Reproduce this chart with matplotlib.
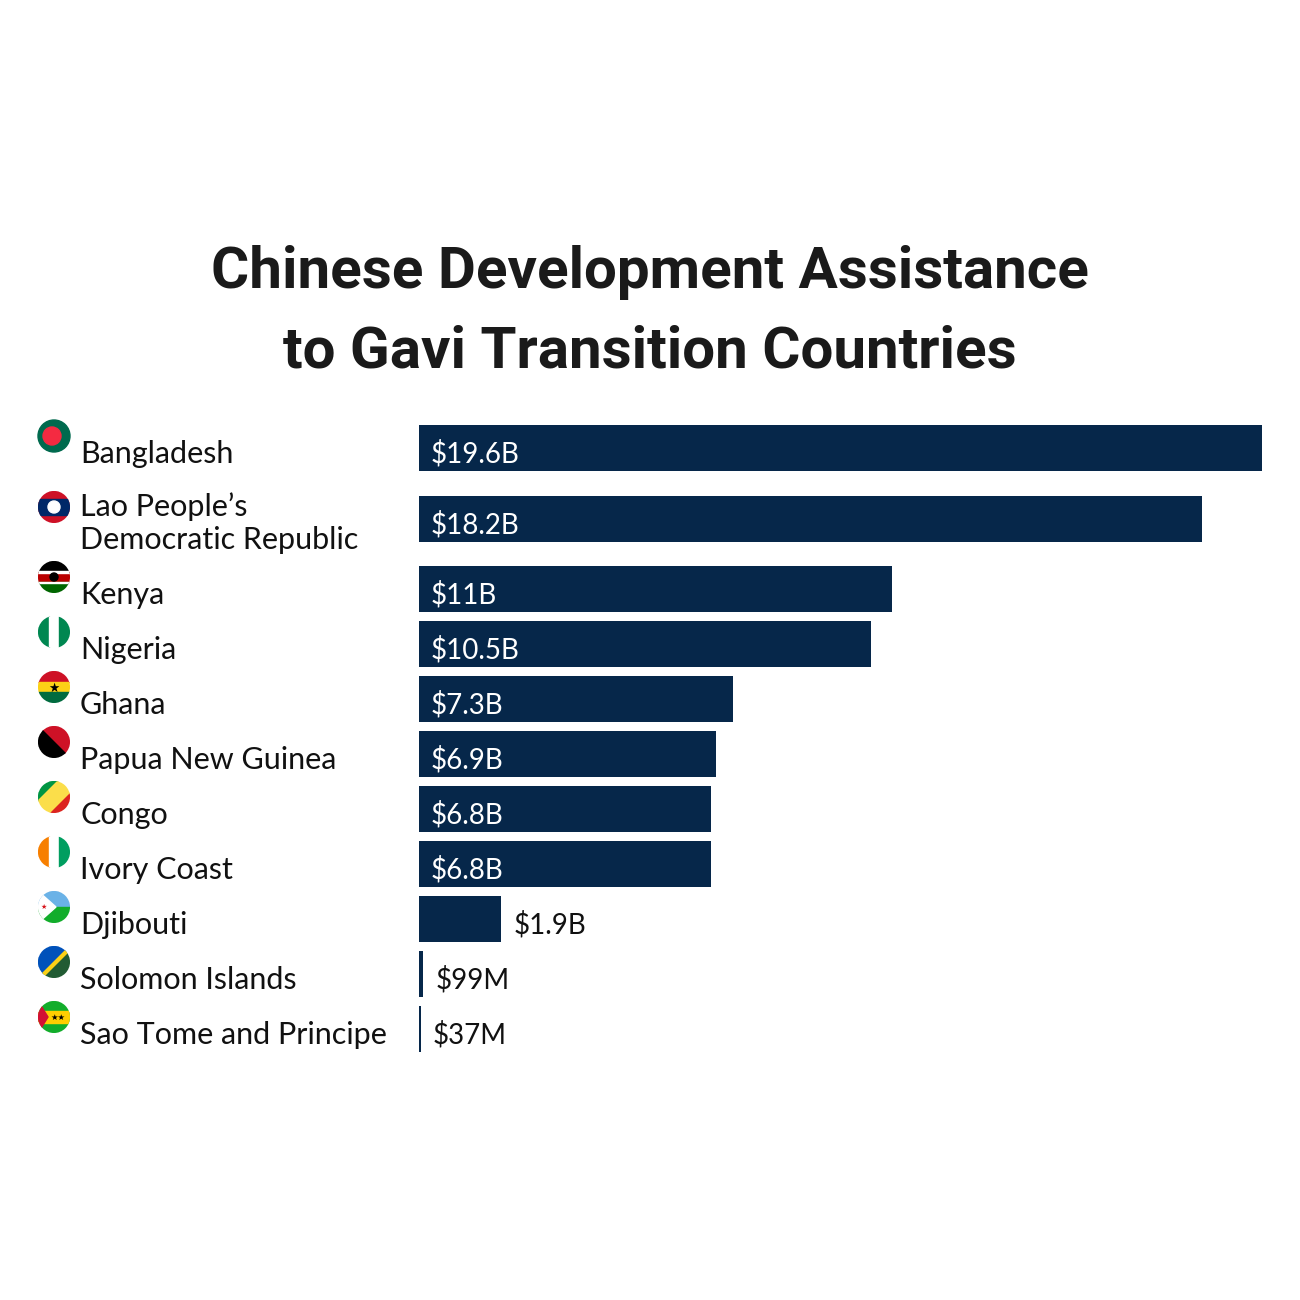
import matplotlib
matplotlib.use("Agg")
import matplotlib.pyplot as plt
from matplotlib.patches import Circle, Wedge, Rectangle, Polygon

countries = ["Bangladesh", "Lao People\u2019s\nDemocratic Republic", "Kenya", "Nigeria", "Ghana",
             "Papua New Guinea", "Congo", "Ivory Coast", "Djibouti", "Solomon Islands",
             "Sao Tome and Principe"]
values = [19.6, 18.2, 11.0, 10.5, 7.3, 6.9, 6.8, 6.8, 1.9, 0.099, 0.037]
labels = ["$19.6B", "$18.2B", "$11B", "$10.5B", "$7.3B", "$6.9B", "$6.8B", "$6.8B", "$1.9B", "$99M", "$37M"]

W = H = 1300
fig = plt.figure(figsize=(13, 13), dpi=100)
fig.patch.set_facecolor("white")
NAVY = "#06274a"

# y centers (pixels from top)
ys = []
y = 448
for i in range(len(values)):
    ys.append(y)
    y += 71 if i == 0 else (70 if i == 1 else 55)

ax = fig.add_axes([419 / W, 0, (1262 - 419) / W, 1])
ax.set_xlim(0, 19.6)
ax.set_ylim(H, 0)
ax.axis("off")
for v, yc, lab in zip(values, ys, labels):
    ax.barh(yc, v, height=46, color=NAVY)
    if v > 3:
        ax.text(0.28, yc + 6, lab, color="white", fontsize=20, va="center", ha="left", family="Lato")
    else:
        ax.text(v + (0.3 if v > 1 else 0.28), yc + 6, lab, color="#111111", fontsize=20, va="center", ha="left", family="Lato")

fig.text(0.5, 1 - 272 / H, "Chinese Development Assistance", ha="center", va="center",
         fontsize=42, fontweight="bold", family="Roboto", color="#1a1a1a", fontstretch="condensed")
fig.text(0.5, 1 - 352 / H, "to Gavi Transition Countries", ha="center", va="center",
         fontsize=42, fontweight="bold", family="Roboto", color="#1a1a1a")

for name, yc, i in zip(countries, ys, range(len(ys))):
    if "\n" in name:
        fig.text(80 / W, 1 - (yc + 4) / H, name, ha="left", va="center", fontsize=22, family="Lato",
                 color="#111111", linespacing=1.25)
    else:
        fig.text(80 / W, 1 - (yc + 6) / H, name, ha="left", va="center", fontsize=22, family="Lato", color="#111111")

# flags
fax = fig.add_axes([0, 0, 1, 1])
fax.set_xlim(0, W); fax.set_ylim(H, 0); fax.axis("off")
r = 16
def circ(cx, cy, color):
    fax.add_patch(Circle((cx, cy), r, color=color))
def clip_all(patches, cx, cy):
    c = Circle((cx, cy), r, transform=fax.transData, visible=False)
    fax.add_patch(c)
    for p in patches:
        fax.add_patch(p); p.set_clip_path(c)

flag_specs = ["bd", "la", "ke", "ng", "gh", "pg", "cg", "ci", "dj", "sb", "st"]
for spec, yc in zip(flag_specs, ys):
    cx, cy = 54, yc - 12
    if spec == "bd":
        circ(cx, cy, "#006a4e"); fax.add_patch(Circle((cx - 2, cy), 9, color="#f42a41"))
    elif spec == "la":
        clip_all([Rectangle((cx - r, cy - r), 2 * r, 2 * r, color="#ce1126"),
                  Rectangle((cx - r, cy - 8), 2 * r, 16, color="#002868"),
                  Circle((cx, cy), 6, color="white")], cx, cy)
    elif spec == "ke":
        clip_all([Rectangle((cx - r, cy - r), 2 * r, 11, color="black"),
                  Rectangle((cx - r, cy - 5), 2 * r, 10, color="#bb0000"),
                  Rectangle((cx - r, cy + 5), 2 * r, 11, color="#006600"),
                  Rectangle((cx - r, cy - 6), 2 * r, 1.5, color="white"),
                  Rectangle((cx - r, cy + 4.5), 2 * r, 1.5, color="white"),
                  Circle((cx, cy), 4, color="black")], cx, cy)
    elif spec in ("ng", "ci"):
        c1, c2, c3 = ("#008751", "white", "#008751") if spec == "ng" else ("#f77f00", "white", "#009e60")
        clip_all([Rectangle((cx - r, cy - r), 11, 2 * r, color=c1),
                  Rectangle((cx - 5, cy - r), 10, 2 * r, color=c2),
                  Rectangle((cx + 5, cy - r), 11, 2 * r, color=c3)], cx, cy)
    elif spec == "gh":
        clip_all([Rectangle((cx - r, cy - r), 2 * r, 11, color="#ce1126"),
                  Rectangle((cx - r, cy - 5), 2 * r, 10, color="#fcd116"),
                  Rectangle((cx - r, cy + 5), 2 * r, 11, color="#006b3f")], cx, cy)
        fax.text(cx, cy + 1, "\u2605", fontsize=9, ha="center", va="center", color="black")
    elif spec == "pg":
        clip_all([Polygon([(cx - r, cy - r), (cx + r, cy - r), (cx + r, cy + r)], color="#ce1126"),
                  Polygon([(cx - r, cy - r), (cx - r, cy + r), (cx + r, cy + r)], color="black")], cx, cy)
    elif spec == "cg":
        clip_all([Polygon([(cx - r, cy - r), (cx + 4, cy - r), (cx - r, cy + 4)], color="#009543"),
                  Polygon([(cx + 4, cy - r), (cx + r, cy - r), (cx + r, cy - 4), (cx - 4, cy + r), (cx - r, cy + r), (cx - r, cy + 4)], color="#fbde4a"),
                  Polygon([(cx + r, cy - 4), (cx + r, cy + r), (cx - 4, cy + r)], color="#dc241f")], cx, cy)
    elif spec == "dj":
        clip_all([Rectangle((cx - r, cy - r), 2 * r, r, color="#6ab2e7"),
                  Rectangle((cx - r, cy), 2 * r, r, color="#12ad2b"),
                  Polygon([(cx - r, cy - r), (cx + 2, cy), (cx - r, cy + r)], color="white")], cx, cy)
        fax.text(cx - 10, cy, "\u2605", fontsize=5, ha="center", va="center", color="#d7141a")
    elif spec == "sb":
        clip_all([Polygon([(cx - r, cy - r), (cx + r, cy - r), (cx - r, cy + r)], color="#0051ba"),
                  Polygon([(cx + r, cy - r), (cx + r, cy + r), (cx - r, cy + r)], color="#215b33"),
                  Polygon([(cx + r, cy - r), (cx + r, cy - r + 4), (cx - r + 4, cy + r), (cx - r, cy + r)], color="#fcd116")], cx, cy)
    elif spec == "st":
        clip_all([Rectangle((cx - r, cy - r), 2 * r, 2 * r, color="#12ad2b"),
                  Rectangle((cx - r, cy - 6), 2 * r, 12, color="#ffce00"),
                  Polygon([(cx - r, cy - r), (cx - 6, cy), (cx - r, cy + r)], color="#d21034")], cx, cy)
        fax.text(cx + 4, cy, "\u2605\u2605", fontsize=6, ha="center", va="center", color="black")

fig.savefig("out.png", dpi=100, facecolor="white")
